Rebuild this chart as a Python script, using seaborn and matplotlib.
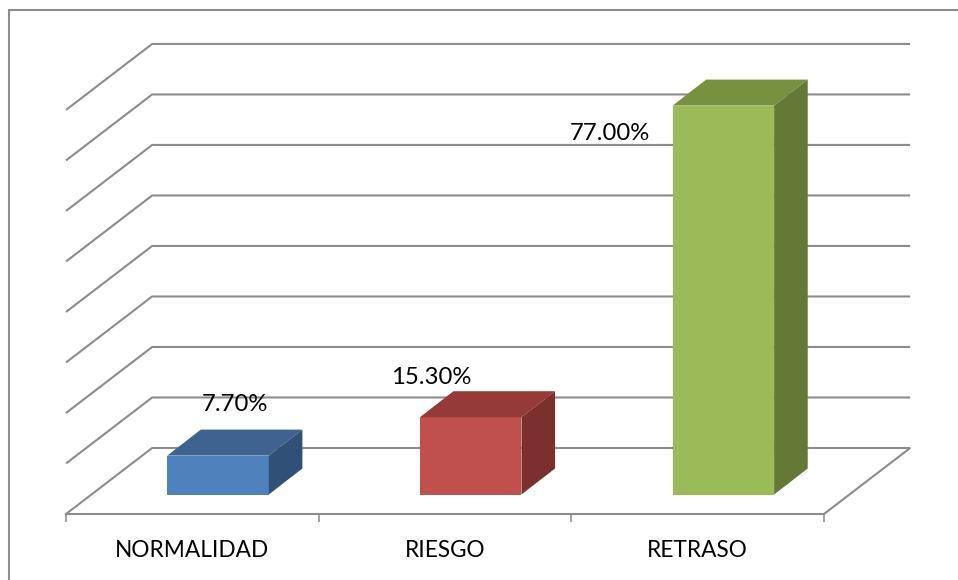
"""
Bar chart drawn in Excel's fake 3D look: back wall, side wall and floor are
built from the axis scale, the bars from a seaborn barplot.
"""
import numpy as np
import pandas as pd
import matplotlib
matplotlib.use('Agg')
import matplotlib.pyplot as plt
from matplotlib.lines import Line2D
from matplotlib.patches import Polygon
import seaborn as sns

categories = ['NORMALIDAD', 'RIESGO', 'RETRASO']
values = [7.7, 15.3, 77.0]
value_labels = ['7.70%', '15.30%', '77.00%']
grid_values = [0, 10, 20, 30, 40, 50, 60, 70, 80]

front_colors = ['#4F81BD', '#C0504D', '#9BBB59']
top_colors = ['#3E6390', '#953A38', '#779140']
side_colors = ['#315078', '#7B302E', '#647935']
grid_color = '#8C8C8C'

sns.set_theme(style='white')
plt.rcParams['font.family'] = ['Lato', 'DejaVu Sans']

W, H = 958, 580
# axis limits: about 252.7 px per category, 5.05 px per percent point
XLIM = (-0.6016, 2.3984)
YLIM = (-3.86, 89.0)
WALL_DX, WALL_DY = 0.341, 13.07    # floor depth
BAR_DX, BAR_DY = 0.133, 5.15       # bar depth
# label offset from the top centre of each bar, in pixels
LABEL_OFFSETS = [(16.5, 51), (-39, 40), (-113, -28)]

fig = plt.figure(figsize=(W / 100, H / 100), dpi=100)
ax = fig.add_axes([66 / W, (H - 514) / H, 758 / W, 469 / H])

df = pd.DataFrame({'category': categories, 'value': values})
sns.barplot(data=df, x='category', y='value', hue='category', palette=front_colors,
            saturation=1, width=0.402, legend=False, linewidth=0, zorder=3, ax=ax)

# Depth faces of each bar, taken from the bars seaborn drew
for bar, top_c, side_c in zip(ax.patches, top_colors, side_colors):
    x0, x1 = bar.get_x(), bar.get_x() + bar.get_width()
    h = bar.get_height()
    ax.add_patch(Polygon([(x0, h), (x1, h), (x1 + BAR_DX, h + BAR_DY), (x0 + BAR_DX, h + BAR_DY)],
                         facecolor=top_c, edgecolor='none', zorder=3))
    ax.add_patch(Polygon([(x1, 0), (x1 + BAR_DX, BAR_DY), (x1 + BAR_DX, h + BAR_DY), (x1, h)],
                         facecolor=side_c, edgecolor='none', zorder=3))

# Gridlines on the back wall and the side wall
line_kw = dict(color=grid_color, lw=1.5, clip_on=False, zorder=1, solid_capstyle='butt')
for v in grid_values:
    y_front = YLIM[0] + v
    y_back = y_front + WALL_DY
    ax.plot([XLIM[0], XLIM[0] + WALL_DX, XLIM[1] + WALL_DX], [y_front, y_back, y_back], **line_kw)
ax.plot([XLIM[1], XLIM[1] + WALL_DX], [YLIM[0], YLIM[0] + WALL_DY], **line_kw)

ax.set_xlim(*XLIM)
ax.set_ylim(*YLIM)
ax.set_yticks([])
ax.set_xlabel('')
ax.set_ylabel('')

# Labels sit in the middle of each floor segment, ticks on the segment edges
ax.set_xticks(np.arange(len(categories)) + XLIM[0] + 0.5, labels=categories, fontsize=16.3, color='black')
ax.set_xticks([XLIM[0] + i for i in range(len(categories) + 1)], minor=True)
ax.tick_params(axis='x', which='major', length=0, pad=19)
ax.tick_params(axis='x', which='minor', bottom=True, length=5.8, width=1.1, color=grid_color)
sns.despine(ax=ax, left=True)
ax.spines['bottom'].set_color(grid_color)
ax.spines['bottom'].set_linewidth(1.5)

for bar, label, offset in zip(ax.patches, value_labels, LABEL_OFFSETS):
    ax.annotate(label, (bar.get_x() + bar.get_width() / 2, bar.get_height()),
                xytext=offset, textcoords='offset pixels', ha='center', va='center',
                fontsize=17.2, color='black', zorder=5, annotation_clip=False)

# Chart area frame, cropped at the right and bottom of the picture
frame_kw = dict(color=grid_color, lw=1.5, transform=fig.transFigure)
fig.add_artist(Line2D([8.5 / W, 8.5 / W], [0, (H - 10) / H], **frame_kw))
fig.add_artist(Line2D([8.5 / W, 1], [(H - 10) / H, (H - 10) / H], **frame_kw))

fig.savefig('out.png', dpi=100)
